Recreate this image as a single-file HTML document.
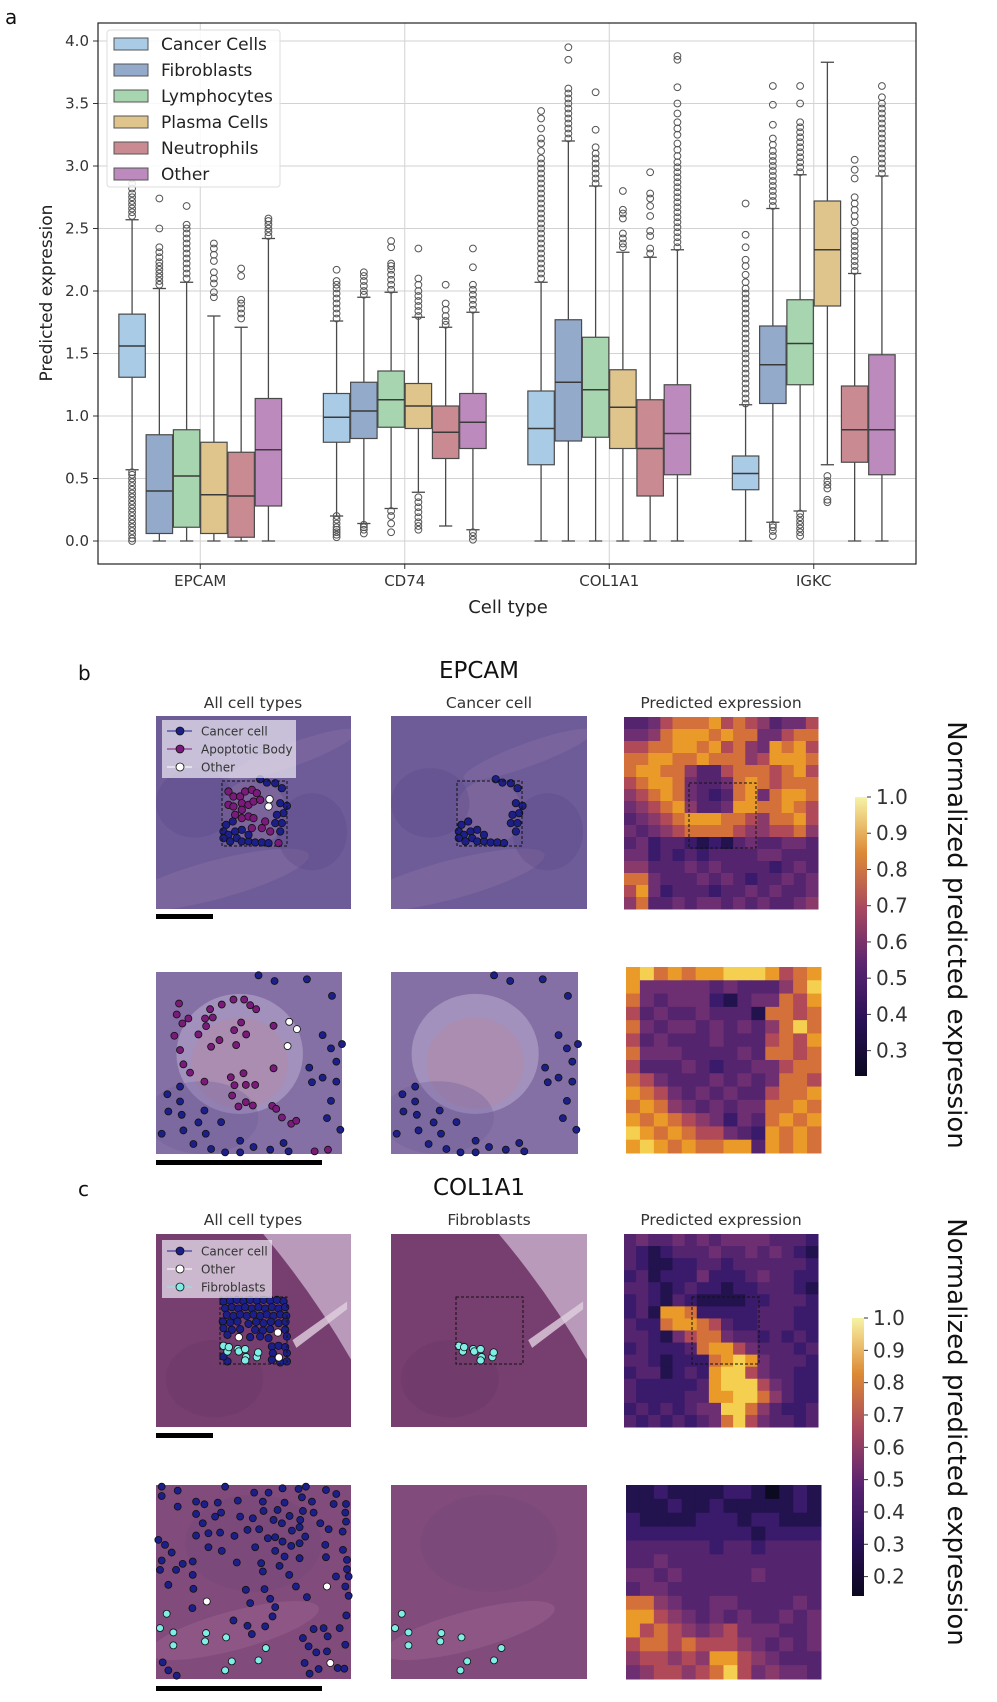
<!DOCTYPE html>
<html><head><meta charset="utf-8">
<style>
html,body{margin:0;padding:0;background:#fff;}
svg{display:block;}
text{font-family:"DejaVu Sans","Liberation Sans",sans-serif;}
</style></head>
<body>
<svg id="fig" width="997" height="1702" viewBox="0 0 997 1702" xmlns="http://www.w3.org/2000/svg">
<defs>
<linearGradient id="cmap" x1="0" y1="1" x2="0" y2="0">
<stop offset="0" stop-color="#0b0820"/><stop offset="0.2" stop-color="#2a1157"/>
<stop offset="0.4" stop-color="#5a2470"/><stop offset="0.6" stop-color="#a8485f"/>
<stop offset="0.8" stop-color="#dd8a35"/><stop offset="1" stop-color="#f6f3a6"/>
</linearGradient>
</defs>
</svg>
<script>
// ---------- Panel a data ----------
const categories = ['EPCAM','CD74','COL1A1','IGKC'];
const cellTypes = ['Cancer Cells','Fibroblasts','Lymphocytes','Plasma Cells','Neutrophils','Other'];
const typeColors = ['#a9cbe6','#93aacb','#a7d5af','#dfc48c','#c98b91','#bd8abd'];
const yTicks = [0,0.5,1.0,1.5,2.0,2.5,3.0,3.5,4.0];
const q1  = [[1.31,0.06,0.11,0.06,0.03,0.28],[0.79,0.82,0.91,0.90,0.66,0.74],[0.61,0.80,0.83,0.74,0.36,0.53],[0.41,1.10,1.25,1.88,0.63,0.53]];
const med = [[1.56,0.40,0.52,0.37,0.36,0.73],[0.99,1.04,1.13,1.08,0.87,0.95],[0.90,1.27,1.21,1.07,0.74,0.86],[0.54,1.41,1.58,2.33,0.89,0.89]];
const q3  = [[1.815,0.85,0.89,0.79,0.71,1.14],[1.18,1.27,1.36,1.26,1.08,1.18],[1.20,1.77,1.63,1.37,1.13,1.25],[0.68,1.72,1.93,2.72,1.24,1.49]];
const wlo = [[0.57,0,0,0,0,0],[0.20,0.14,0.26,0.39,0.12,0.09],[0,0,0,0,0,0],[0,0.15,0.24,0.61,0,0]];
const whi = [[2.57,2.02,2.07,1.80,1.71,2.42],[1.76,1.95,1.99,1.79,1.71,1.83],[2.07,3.20,2.84,2.31,2.27,2.33],[1.09,2.66,2.93,3.83,2.14,2.92]];
const outliers = [
 [[0,0.02,0.05,0.08,0.11,0.14,0.17,0.2,0.23,0.26,0.29,0.32,0.35,0.38,0.41,0.44,0.47,0.5,0.53,0.55,2.6,2.63,2.66,2.69,2.72,2.75,2.78,2.82,2.86,2.9],
  [2.05,2.08,2.11,2.14,2.17,2.2,2.23,2.27,2.31,2.35,2.5,2.74],
  [2.1,2.14,2.18,2.22,2.26,2.3,2.34,2.38,2.42,2.46,2.5,2.53,2.68],
  [1.95,1.99,2.06,2.1,2.15,2.24,2.29,2.34,2.38],
  [1.78,1.82,1.86,1.9,1.93,2.12,2.18],
  [2.44,2.47,2.5,2.53,2.56,2.58]],
 [[0.03,0.05,0.07,0.09,0.11,0.14,0.17,0.2,1.78,1.82,1.86,1.9,1.94,1.98,2.02,2.05,2.08,2.17],
  [0.06,0.09,0.11,0.13,1.97,2.0,2.04,2.08,2.12,2.15],
  [0.07,0.14,0.2,0.24,2.01,2.05,2.09,2.13,2.17,2.2,2.22,2.35,2.4],
  [0.09,0.12,0.15,0.19,0.23,0.27,0.31,0.35,1.8,1.84,1.88,1.92,1.96,2.0,2.05,2.1,2.34],
  [1.73,1.76,1.8,1.85,1.9,2.05],
  [0.01,0.04,0.07,1.85,1.89,1.93,1.97,2.01,2.05,2.19,2.34]],
 [[2.1,2.14,2.18,2.22,2.26,2.3,2.34,2.38,2.42,2.46,2.5,2.54,2.58,2.62,2.66,2.7,2.74,2.78,2.82,2.86,2.9,2.94,2.98,3.02,3.06,3.12,3.18,3.22,3.3,3.38,3.44],
  [3.22,3.26,3.3,3.34,3.38,3.42,3.46,3.5,3.54,3.58,3.62,3.85,3.95],
  [2.86,2.9,2.94,2.98,3.02,3.06,3.1,3.15,3.29,3.59],
  [2.35,2.38,2.42,2.46,2.58,2.62,2.65,2.8],
  [2.3,2.34,2.44,2.48,2.6,2.68,2.74,2.78,2.95],
  [2.35,2.39,2.43,2.47,2.51,2.55,2.59,2.63,2.67,2.71,2.75,2.79,2.83,2.87,2.91,2.95,2.99,3.03,3.08,3.13,3.18,3.25,3.3,3.35,3.42,3.5,3.63,3.85,3.88]],
 [[1.1,1.14,1.18,1.22,1.26,1.3,1.34,1.38,1.42,1.46,1.5,1.54,1.58,1.62,1.66,1.7,1.74,1.78,1.82,1.86,1.9,1.94,1.98,2.02,2.07,2.13,2.2,2.25,2.35,2.45,2.7],
  [0.04,0.08,0.11,0.13,2.68,2.72,2.76,2.8,2.84,2.88,2.92,2.96,3.0,3.04,3.08,3.12,3.17,3.22,3.33,3.49,3.64],
  [0.04,0.07,0.1,0.13,0.16,0.19,0.22,2.95,2.99,3.03,3.07,3.11,3.15,3.19,3.23,3.27,3.31,3.35,3.5,3.64],
  [0.31,0.33,0.42,0.45,0.48,0.52],
  [2.16,2.2,2.24,2.28,2.32,2.36,2.4,2.44,2.48,2.55,2.6,2.65,2.7,2.75,2.9,2.97,3.05],
  [2.94,2.98,3.02,3.06,3.1,3.14,3.18,3.22,3.26,3.3,3.34,3.38,3.42,3.46,3.5,3.55,3.64]]
];

// ---------- Panel b / c data ----------
const cbTicksB = [1.0,0.9,0.8,0.7,0.6,0.5,0.4,0.3];
const cbTicksC = [1.0,0.9,0.8,0.7,0.6,0.5,0.4,0.3,0.2];
const heatPalette = ['#0b0a20','#22124d','#3a1a6a','#55246f','#6e2f72','#8a3a6a','#b04a58','#d4703a','#e99a28','#f5d050'];
const heatEpcamTop = ["3346777867653446","4457888787744677","6677887867548786","7788778777568887","7887753367776786","6788743347876777","5678743237847887","4567853348877876","3456788877657786","4345677776556675","3423321213433443","4423232333344333","5533343433332343","7743334343233434","6842333233434334","5733434434343345"];
const heatEpcamZoom = ["89787889998678","84444434333579","74344421344768","63433433317767","74344343435797","63433343336768","74443333437767","63334323344677","76433343434776","87643434336778","78754343447787","87876542437878","98787664328787","89878778838787"];
const heatColTop = ["3433434344443332","3212333433434321","3211223323333332","2312224222343322","3321232212233321","2321321111223332","2318872222233322","3227887632233322","3321467743323232","2322237886433323","3321222789843332","2331232899643322","3222223899964322","3222233889975322","2323234499753223","3232323479643323"];
const heatColZoom = ["11211112210121","11121121111121","21111222122111","22222222212222","33333323323333","33433333333333","44343333343333","34433333333333","77543344333343","88654343433434","86765456444334","67767666543434","56656588654333","45665679645443"];

// scatter points (in image-local units)
const bTopCancer = [[498,525],[518,515],[490,545],[505,555],[525,545],[545,540],[530,565],[545,575],[565,575],[585,578],[605,578],[625,580],[565,555],[600,388],[620,398],[645,400],[665,415],[660,460],[680,468],[670,490],[650,495],[645,520],[665,520],[660,545],[490,565],[510,575]];
const bTopApop = [[505,425],[520,440],[540,440],[555,425],[575,420],[590,430],[505,465],[520,470],[545,460],[565,465],[580,455],[600,450],[525,495],[545,505],[565,500],[580,505],[575,535],[605,535],[630,545],[655,580],[615,515],[545,480]];
const bTopOther = [[628,448],[625,470]];
const bZoomCancer = [[355,45],[403,62],[500,57],[575,107],[547,225],[605,252],[572,265],[588,305],[507,323],[547,353],[515,367],[588,365],[572,423],[560,475],[600,510],[120,380],[82,403],[120,425],[85,455],[125,465],[193,452],[175,488],[243,487],[130,512],[197,522],[65,522],[160,553],[213,568],[255,578],[300,543],[300,578],[340,562],[390,570],[430,550],[445,575]];
const bZoomApop = [[117,130],[110,163],[127,190],[145,175],[210,147],[195,175],[218,172],[198,198],[245,133],[280,118],[312,118],[330,135],[348,147],[303,187],[282,210],[318,223],[400,197],[103,227],[175,223],[238,240],[213,260],[288,255],[120,270],[130,313],[150,338],[193,365],[272,352],[310,340],[283,376],[317,375],[345,375],[400,325],[276,407],[295,440],[317,427],[338,437],[396,438],[408,447],[425,473],[453,492],[468,483],[523,575],[563,570]];
const bZoomOther = [[447,185],[470,207],[442,258]];
const cTopCancer = [[250,245],[270,242],[290,240],[310,244],[330,240],[350,242],[370,240],[390,242],[410,240],[430,244],[255,265],[275,262],[295,266],[315,262],[335,266],[355,262],[375,266],[395,262],[415,266],[435,262],[260,285],[280,288],[300,284],[320,288],[340,284],[360,288],[380,284],[400,288],[420,284],[438,288],[248,305],[270,308],[292,305],[325,312],[348,306],[370,310],[392,306],[415,310],[436,306],[250,325],[275,330],[300,328],[345,330],[368,332],[390,328],[435,330],[262,345],[330,352],[360,350],[385,355],[440,350],[395,380],[415,378],[435,382],[398,400],[440,400],[395,420],[420,428],[440,425],[262,425],[250,410]];
const cTopFib = [[250,378],[262,395],[266,382],[293,388],[296,395],[315,388],[318,412],[315,422],[350,412],[354,398]];
const cTopOther = [[296,352],[413,338],[416,413]];
const cZoomCancer = [[65,50],[113,62],[255,50],[342,68],[385,68],[427,55],[475,57],[497,50],[557,60],[588,72],[65,78],[113,110],[168,95],[193,103],[233,98],[293,92],[368,95],[433,98],[485,82],[515,95],[580,102],[617,102],[168,132],[188,160],[243,128],[300,140],[338,145],[370,123],[412,120],[448,138],[488,123],[520,128],[615,128],[225,140],[400,150],[425,160],[480,150],[540,160],[617,155],[168,197],[205,190],[240,188],[283,198],[322,180],[357,178],[383,205],[405,202],[427,215],[455,182],[478,172],[495,200],[565,178],[607,185],[55,210],[75,225],[95,248],[205,232],[245,243],[345,232],[405,243],[453,228],[478,220],[555,225],[608,240],[65,272],[128,282],[158,275],[290,278],[363,280],[418,288],[433,260],[478,265],[557,262],[620,270],[60,300],[108,300],[158,315],[368,305],[447,315],[587,320],[620,298],[625,320],[85,345],[160,357],[317,360],[373,358],[467,350],[615,350],[330,400],[390,387],[500,382],[625,378],[157,415],[405,412],[280,452],[322,468],[375,470],[397,440],[618,437],[335,493],[520,478],[550,475],[598,475],[488,505],[562,500],[505,530],[528,548],[560,545],[615,525],[68,578],[85,602],[110,618],[493,580],[508,612],[535,598],[592,595],[612,597]];
const cZoomFib = [[80,432],[60,475],[100,488],[198,490],[258,503],[100,527],[195,515],[377,535],[275,575],[355,572],[255,602]];
const cZoomOther = [[200,395],[560,350],[570,580]];

// ---------- helpers ----------
const NS = 'http://www.w3.org/2000/svg';
const svg = document.getElementById('fig');
function mk(tag, attrs, parent){
  const e = document.createElementNS(NS, tag);
  for (const k in attrs) e.setAttribute(k, attrs[k]);
  (parent||svg).appendChild(e);
  return e;
}
function txt(s, attrs, parent){ const t = mk('text', attrs, parent); t.textContent = s; return t; }

// ---------- Panel a ----------
const AX = {l:98, r:916, t:23, b:564};
const yScale = v => 541 - v*125;
const bandW = (AX.r-AX.l)/categories.length;
const catX = i => AX.l + (i+0.5)*bandW;
const boxW = 0.8*bandW/cellTypes.length;
const boxX = (i,j) => catX(i) - 0.4*bandW + (j+0.5)*boxW;

const gA = mk('g', {});


const lblA = txt('a', {x:5, y:24, 'font-size':20, fill:'#111', 'font-family':'Liberation Sans'}, gA);



yTicks.forEach(v => {
  const gl = mk('line', {x1:AX.l, x2:AX.r, y1:yScale(v), y2:yScale(v), stroke:'#d2d2d2', 'stroke-width':1}, gA);
  
  
  mk('line', {x1:AX.l-5, x2:AX.l, y1:yScale(v), y2:yScale(v), stroke:'#333', 'stroke-width':1}, gA);
  const t = txt(v.toFixed(1), {x:AX.l-9, y:yScale(v)+5, 'font-size':15, fill:'#333', 'text-anchor':'end'}, gA);
  
  
});
categories.forEach((c,i) => {
  const gl = mk('line', {x1:catX(i), x2:catX(i), y1:AX.t, y2:AX.b, stroke:'#d2d2d2', 'stroke-width':1}, gA);
  
  
  mk('line', {x1:catX(i), x2:catX(i), y1:AX.b, y2:AX.b+5, stroke:'#333', 'stroke-width':1}, gA);
  const t = txt(c, {x:catX(i), y:AX.b+22, 'font-size':15, fill:'#333', 'text-anchor':'middle'}, gA);
  
  
});

categories.forEach((c,i) => {
  cellTypes.forEach((ct,j) => {
    const g = mk('g', {}, gA);
    
    
    const cx = boxX(i,j), w = boxW*0.97;
    const edge = '#4a4a4a';
    mk('line', {x1:cx, x2:cx, y1:yScale(q3[i][j]), y2:yScale(whi[i][j]), stroke:edge, 'stroke-width':1.3}, g);
    mk('line', {x1:cx, x2:cx, y1:yScale(q1[i][j]), y2:yScale(wlo[i][j]), stroke:edge, 'stroke-width':1.3}, g);
    mk('line', {x1:cx-w/4, x2:cx+w/4, y1:yScale(whi[i][j]), y2:yScale(whi[i][j]), stroke:edge, 'stroke-width':1.3}, g);
    mk('line', {x1:cx-w/4, x2:cx+w/4, y1:yScale(wlo[i][j]), y2:yScale(wlo[i][j]), stroke:edge, 'stroke-width':1.3}, g);
    mk('rect', {x:cx-w/2, y:yScale(q3[i][j]), width:w, height:yScale(q1[i][j])-yScale(q3[i][j]), fill:typeColors[j], stroke:edge, 'stroke-width':1.2}, g);
    mk('line', {x1:cx-w/2, x2:cx+w/2, y1:yScale(med[i][j]), y2:yScale(med[i][j]), stroke:'#3a3a3a', 'stroke-width':1.5}, g);
    outliers[i][j].forEach(v => {
      mk('circle', {cx:cx, cy:yScale(v), r:3.4, fill:'none', stroke:'#555', 'stroke-width':1}, g);
    });
  });
});
mk('rect', {x:AX.l, y:AX.t, width:AX.r-AX.l, height:AX.b-AX.t, fill:'none', stroke:'#222', 'stroke-width':1.2}, gA);

// legend
const lg = mk('g', {}, gA);


mk('rect', {x:107, y:30, width:173, height:157, rx:3, fill:'rgba(255,255,255,0.85)', stroke:'#ddd', 'stroke-width':1}, lg);
cellTypes.forEach((ct,j) => {
  const e = mk('g', {}, lg);
  
  
  const y = 44 + j*26;
  mk('rect', {x:114, y:y-6, width:34, height:12, fill:typeColors[j], stroke:'#555', 'stroke-width':1}, e);
  txt(ct, {x:161, y:y+6, 'font-size':17, fill:'#222'}, e);
});
const yl = txt('Predicted expression', {x:0, y:0, 'font-size':17, fill:'#222', 'text-anchor':'middle', transform:'translate(52,293) rotate(-90)'}, gA);


const xl = txt('Cell type', {x:508, y:613, 'font-size':18, fill:'#222', 'text-anchor':'middle'}, gA);



// ---------- Tissue images ----------
function tissue(x,y,w,h,base,name,variant){
  const g = mk('g', {});
  
  
  const cp = mk('clipPath', {id:'clip-'+name}, g);
  mk('rect', {x:x, y:y, width:w, height:h}, cp);
  const inner = mk('g', {'clip-path':'url(#clip-'+name+')'}, g);
  mk('rect', {x:x, y:y, width:w, height:h, fill:base}, inner);
  if (variant==='b'){
    mk('ellipse', {cx:x+w*0.3, cy:y+h*0.85, rx:w*0.5, ry:h*0.1, fill:'#9a7aa8', opacity:0.3, transform:'rotate(-15 '+(x+w*0.3)+' '+(y+h*0.85)+')'}, inner);
    mk('ellipse', {cx:x+w*0.7, cy:y+h*0.2, rx:w*0.35, ry:h*0.06, fill:'#9c7ab0', opacity:0.25, transform:'rotate(-20 '+(x+w*0.7)+' '+(y+h*0.2)+')'}, inner);
    mk('ellipse', {cx:x+w*0.5, cy:y+h*0.5, rx:w*0.17, ry:h*0.17, fill:'#8e72a0', opacity:0.4}, inner);
    mk('ellipse', {cx:x+w*0.2, cy:y+h*0.45, rx:w*0.2, ry:h*0.18, fill:'#4e3f7e', opacity:0.25}, inner);
    mk('ellipse', {cx:x+w*0.8, cy:y+h*0.6, rx:w*0.18, ry:h*0.2, fill:'#4e3f7e', opacity:0.25}, inner);
  } else if (variant==='bz'){
    mk('ellipse', {cx:x+w*0.45, cy:y+h*0.45, rx:w*0.34, ry:h*0.33, fill:'#cfc2e0', opacity:0.4}, inner);
    mk('ellipse', {cx:x+w*0.45, cy:y+h*0.5, rx:w*0.26, ry:h*0.25, fill:'#b08aa8', opacity:0.55}, inner);
    mk('ellipse', {cx:x+w*0.25, cy:y+h*0.8, rx:w*0.3, ry:h*0.2, fill:'#6a5a98', opacity:0.3}, inner);
  } else if (variant==='c'){
    mk('path', {d:'M'+(x+w*0.55)+' '+y+' L'+(x+w)+' '+y+' L'+(x+w)+' '+(y+h*0.65)+' Q'+(x+w*0.8)+' '+(y+h*0.3)+' '+(x+w*0.55)+' '+y+'Z', fill:'#c4aac8', opacity:0.85}, inner);
    mk('path', {d:'M'+(x+w*0.7)+' '+(y+h*0.55)+' L'+(x+w*0.98)+' '+(y+h*0.35)+' L'+(x+w*0.98)+' '+(y+h*0.39)+' L'+(x+w*0.72)+' '+(y+h*0.59)+'Z', fill:'#e0d0e0', opacity:0.8}, inner);
    mk('ellipse', {cx:x+w*0.3, cy:y+h*0.75, rx:w*0.25, ry:h*0.2, fill:'#5e2e5e', opacity:0.25}, inner);
  } else if (variant==='cz'){
    mk('ellipse', {cx:x+w*0.4, cy:y+h*0.75, rx:w*0.45, ry:h*0.1, fill:'#a46a98', opacity:0.35, transform:'rotate(-15 '+(x+w*0.4)+' '+(y+h*0.75)+')'}, inner);
    mk('ellipse', {cx:x+w*0.5, cy:y+h*0.3, rx:w*0.35, ry:h*0.25, fill:'#6a3e72', opacity:0.25}, inner);
  }
  return g;
}
function scatter(g, pts, dom, box, color, r, name){
  const sx = v => box.x + (v-dom[0])/(dom[1]-dom[0])*box.w;
  const sy = v => box.y + (v-dom[2])/(dom[3]-dom[2])*box.h;
  pts.forEach(p => {
    const c = mk('circle', {cx:sx(p[0]), cy:sy(p[1]), r:r, fill:color, stroke:'#111', 'stroke-width':0.8}, g);
    
    
  });
}
function heat(rows, x, y, w, h, name){
  const g = mk('g', {});
  
  
  const n = rows.length, m = rows[0].length;
  rows.forEach((row,ri) => {
    for (let ci=0; ci<m; ci++){
      const v = parseInt(row[ci],10);
      const cell = mk('rect', {x:x+ci*w/m, y:y+ri*h/n, width:w/m+0.5, height:h/n+0.5, fill:heatPalette[v]}, g);
      
      
    }
  });
  return g;
}
function dashBox(x,y,w,h){
  mk('rect', {x:x, y:y, width:w, height:h, fill:'none', stroke:'#111', 'stroke-width':1, 'stroke-dasharray':'3,2'});
}
function scaleBar(x,y,w,name){
  const s = mk('rect', {x:x, y:y, width:w, height:5, fill:'#000'});
  
  
}
function subTitle(s, x, y){
  const t = txt(s, {x:x, y:y, 'font-size':15.5, fill:'#333', 'text-anchor':'middle'});
  
  
}
function legendSmall(x,y,w,entries){
  const g = mk('g', {});
  
  
  mk('rect', {x:x, y:y, width:w, height:58, fill:'rgba(235,232,242,0.72)'}, g);
  entries.forEach((e,k) => {
    const yy = y+11+k*18;
    mk('line', {x1:x+5, x2:x+30, y1:yy, y2:yy, stroke:e[1], 'stroke-width':1}, g);
    mk('circle', {cx:x+18, cy:yy, r:4, fill:e[1], stroke:'#111', 'stroke-width':0.8}, g);
    txt(e[0], {x:x+39, y:yy+4.5, 'font-size':12, fill:'#333'}, g);
  });
}
function colorbar(x, yTop, yBot, v0, v1, ticks, name){
  const g = mk('g', {});
  
  
  mk('rect', {x:x, y:yTop, width:12, height:yBot-yTop, fill:'url(#cmap)'}, g);
  const sc = v => yBot - (v-v0)/(v1-v0)*(yBot-yTop);
  ticks.forEach(v => {
    mk('line', {x1:x+12, x2:x+16, y1:sc(v), y2:sc(v), stroke:'#333', 'stroke-width':1}, g);
    const t = txt(v.toFixed(1), {x:x+21, y:sc(v)+7, 'font-size':20, fill:'#333'}, g);
    
    
  });
}

const NAVY = '#1c1f8a', PURP = '#7a1a7a', CYAN = '#7eeee6';

// ---- Panel b ----
const pb = txt('b', {x:78, y:680, 'font-size':20, fill:'#111', 'font-family':'Liberation Sans'});


const tb = txt('EPCAM', {x:479, y:678, 'font-size':23, fill:'#111', 'text-anchor':'middle', 'font-family':'Liberation Sans'});


subTitle('All cell types', 253, 708); subTitle('Cancer cell', 489, 708); subTitle('Predicted expression', 721, 708);

let g1 = tissue(156,716,195,193,'#6e5c98','epcam-all-cell-types-image','b');
scatter(g1, bTopApop, [288,872,198,778], {x:156,y:716,w:195,h:193}, PURP, 3.7, 'apoptotic-body-dot');
scatter(g1, bTopCancer, [288,872,198,778], {x:156,y:716,w:195,h:193}, NAVY, 3.7, 'cancer-cell-dot');
scatter(g1, bTopOther, [288,872,198,778], {x:156,y:716,w:195,h:193}, '#fff', 3.7, 'other-dot');
dashBox(222,781,65,65);
legendSmall(162,720,134,[['Cancer cell',NAVY],['Apoptotic Body',PURP],['Other','#fff']]);
let g2 = tissue(391,716,196,193,'#6e5c98','epcam-cancer-cell-image','b');
scatter(g2, bTopCancer, [288,872,198,778], {x:391,y:716,w:196,h:193}, NAVY, 3.7, 'cancer-cell-dot');
dashBox(457,781,65,65);
heat(heatEpcamTop, 624,717,194,192,'epcam-heatmap');
dashBox(689,783,67,65);
scaleBar(156,914,57,'scale-bar');

let g3 = tissue(156,972,186,182,'#8470a4','epcam-zoom-all-image','bz');
scatter(g3, bZoomApop, [48,605,35,583], {x:156,y:972,w:186,h:182}, PURP, 3.5, 'apoptotic-body-dot');
scatter(g3, bZoomCancer, [48,605,35,583], {x:156,y:972,w:186,h:182}, NAVY, 3.5, 'cancer-cell-dot');
scatter(g3, bZoomOther, [48,605,35,583], {x:156,y:972,w:186,h:182}, '#fff', 3.5, 'other-dot');
let g4 = tissue(391,972,187,182,'#8470a4','epcam-zoom-cancer-image','bz');
scatter(g4, bZoomCancer, [48,605,35,583], {x:391,y:972,w:187,h:182}, NAVY, 3.5, 'cancer-cell-dot');
heat(heatEpcamZoom, 626,967,195,186,'epcam-zoom-heatmap');
scaleBar(156,1160,166,'scale-bar-zoom');
colorbar(855,797,1076,0.23,1.0,cbTicksB,'epcam-colorbar');
const cbl1 = txt('Normalized predicted expression', {x:0, y:0, 'font-size':26, fill:'#111', 'text-anchor':'middle', 'font-family':'Liberation Sans', transform:'translate(948,935) rotate(90)'});



// ---- Panel c ----
const pc = txt('c', {x:78, y:1196, 'font-size':20, fill:'#111', 'font-family':'Liberation Sans'});


const tc = txt('COL1A1', {x:479, y:1195, 'font-size':23, fill:'#111', 'text-anchor':'middle', 'font-family':'Liberation Sans'});


subTitle('All cell types', 253, 1225); subTitle('Fibroblasts', 489, 1225); subTitle('Predicted expression', 721, 1225);

let g5 = tissue(156,1234,195,193,'#773f70','col1a1-all-cell-types-image','c');
scatter(g5, cTopCancer, [48,632,42,622], {x:156,y:1234,w:195,h:193}, NAVY, 3.7, 'cancer-cell-dot');
scatter(g5, cTopFib, [48,632,42,622], {x:156,y:1234,w:195,h:193}, CYAN, 3.7, 'fibroblast-dot');
scatter(g5, cTopOther, [48,632,42,622], {x:156,y:1234,w:195,h:193}, '#fff', 3.7, 'other-dot');
dashBox(220,1297,67,67);
legendSmall(162,1240,110,[['Cancer cell',NAVY],['Other','#fff'],['Fibroblasts',CYAN]]);
let g6 = tissue(391,1234,196,193,'#773f70','col1a1-fibroblasts-image','c');
scatter(g6, cTopFib, [48,632,42,622], {x:391,y:1234,w:196,h:193}, CYAN, 3.7, 'fibroblast-dot');
dashBox(456,1297,67,67);
heat(heatColTop, 624,1234,194,193,'col1a1-heatmap');
dashBox(692,1297,67,67);
scaleBar(156,1433,57,'scale-bar');

let g7 = tissue(156,1485,195,194,'#814c7c','col1a1-zoom-all-image','cz');
scatter(g7, cZoomCancer, [48,632,45,628], {x:156,y:1485,w:195,h:194}, NAVY, 3.5, 'cancer-cell-dot');
scatter(g7, cZoomFib, [48,632,45,628], {x:156,y:1485,w:195,h:194}, CYAN, 3.5, 'fibroblast-dot');
scatter(g7, cZoomOther, [48,632,45,628], {x:156,y:1485,w:195,h:194}, '#fff', 3.5, 'other-dot');
let g8 = tissue(391,1485,196,194,'#814c7c','col1a1-zoom-fibroblasts-image','cz');
scatter(g8, cZoomFib, [48,632,45,628], {x:391,y:1485,w:196,h:194}, CYAN, 3.5, 'fibroblast-dot');
heat(heatColZoom, 626,1485,195,194,'col1a1-zoom-heatmap');
scaleBar(156,1686,166,'scale-bar-zoom');
colorbar(852,1318,1596,0.14,1.0,cbTicksC,'col1a1-colorbar');
const cbl2 = txt('Normalized predicted expression', {x:0, y:0, 'font-size':26, fill:'#111', 'text-anchor':'middle', 'font-family':'Liberation Sans', transform:'translate(948,1432) rotate(90)'});


</script>
</body></html>
